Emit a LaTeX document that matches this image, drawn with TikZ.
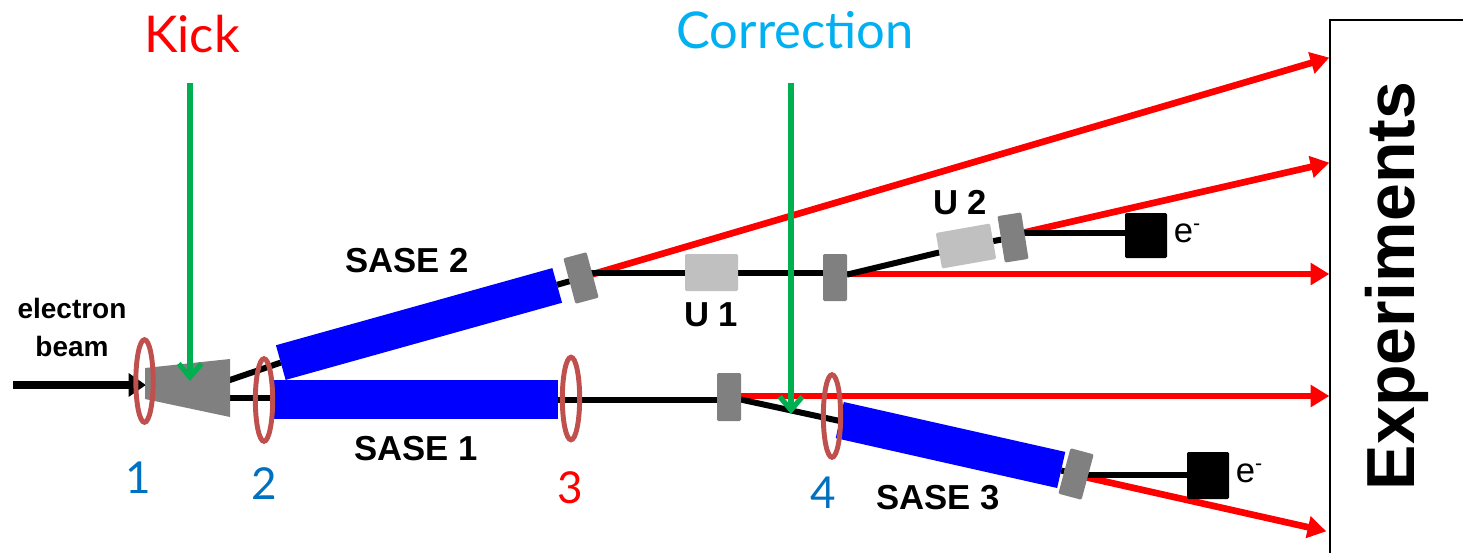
\documentclass[tikz,border=0pt]{standalone}
\usepackage{fontspec}
\setmainfont{Liberation Sans}
\newfontfamily\handfont{Lato}
\usetikzlibrary{arrows.meta,shapes.geometric}
\pgfdeclarelayer{paper}
\pgfdeclarelayer{rays}
\pgfdeclarelayer{beams}
\pgfdeclarelayer{over}
\pgfsetlayers{paper,rays,beams,main,over}
\definecolor{magGray}{HTML}{808080}
\definecolor{undGray}{HTML}{C0C0C0}
\definecolor{ringRed}{HTML}{C0504D}
\definecolor{kickGreen}{HTML}{00B050}
\definecolor{numBlue}{HTML}{0070C0}
\definecolor{corrBlue}{HTML}{00B0F0}
\tikzset{
  x=0.75pt,y=-0.75pt,
  pxbox/.style 2 args={minimum width=#1*0.75pt,minimum height=#2*0.75pt,inner sep=0pt,outer sep=0pt,draw=none},
  sase/.style={fill=blue},
  mag/.style={fill=magGray,rounded corners=1pt},
  und/.style={fill=undGray,rounded corners=1pt},
  dump/.style={fill=black,rounded corners=1pt},
  beamline/.style={line width=4.5pt,black},
  inbeam/.style={line width=6pt,black,-{Triangle[length=13pt,width=17pt]}},
  ray/.style={line width=5pt,red,-{Triangle[length=14pt,width=16pt]},shorten >=-1pt},
  greenarrow/.style={line width=3.9pt,kickGreen,-{Straight Barb[length=10pt,width=17pt,line width=3.9pt]}},
  ring/.style={draw=ringRed,line width=3.7pt,ellipse,fill=none,inner sep=0pt,minimum width=13pt,minimum height=62pt},
  lab/.style={font=\fontsize{26}{30}\selectfont\bfseries,inner sep=0pt,black},
  small/.style={font=\fontsize{21}{25}\selectfont\bfseries,inner sep=0pt,black},
  emin/.style={font=\fontsize{26}{30}\selectfont,inner sep=0pt,black},
  hand/.style={font=\handfont\fontsize{33}{38}\selectfont,inner sep=0pt},
  bighand/.style={font=\handfont\fontsize{38}{42}\selectfont,inner sep=0pt},
}
\begin{document}
\begin{tikzpicture}
\useasboundingbox (0,0) rectangle (1463,553);
\begin{pgfonlayer}{paper}
\fill[white] (0,0) rectangle (1463,553);
\end{pgfonlayer}
% Experiments panel
\coordinate (pb) at (1330,553);
\coordinate (pt) at (1330,20);
\coordinate (pr) at (1463,20);
\draw[line width=1.9pt,black] (pb) -- (pt) -- (pr);
\node[rotate=90,font=\fontsize{51}{56}\selectfont\bfseries,inner sep=0pt] (exp) at (1397,286) {Experiments};

% undulators and magnets
\node[sase,pxbox={287}{36},rotate=15.6] (s2) at (419,324) {};
\node[sase,pxbox={285}{39}] (s1) at (415.5,399.5) {};
\node[sase,pxbox={227}{37},rotate=-12.7] (s3) at (950.5,445) {};
\node[mag,pxbox={24}{47},rotate=15] (m2) at (581,278) {};
\node[mag,pxbox={24}{48}] (m1) at (729,397) {};
\node[mag,pxbox={24}{47}] (mu1) at (835,277.5) {};
\node[mag,pxbox={24}{47},rotate=9] (mu2) at (1013,237.5) {};
\node[mag,pxbox={24}{47},rotate=-15] (m3) at (1076,474) {};
\node[und,pxbox={53}{37}] (u1) at (711.5,272.5) {};
\node[und,pxbox={55}{36},rotate=10] (u2) at (966,246) {};
\node[dump,pxbox={42}{45}] (d2) at (1146,235.5) {};
\node[dump,pxbox={42}{47}] (d3) at (1208,475.5) {};

% kicker
\coordinate (k1) at (145,368);
\coordinate (k2) at (230,359);
\coordinate (k3) at (230,417);
\coordinate (k4) at (145,399);
\fill[magGray] (k1) -- (k2) -- (k3) -- (k4) -- cycle;
\coordinate (kin) at (146,385);
\coordinate (kup) at (227,381);
\coordinate (klo) at (230,398);
\coordinate (bstart) at (13,385);

\begin{pgfonlayer}{beams}
\draw[inbeam] (bstart) -- (kin);
\draw[beamline] (kup) -- (s2.west);
\draw[beamline] (klo) -- (klo -| s1);
\draw[beamline] (s2) -- (m2);
\draw[beamline] (s1) -- (s1 -| m1);
\draw[beamline] (m1) -- (s3);
\draw[beamline] (s3) -- (m3);
\coordinate (m3r) at (1080,475);
\draw[beamline] (m3r) -- (m3r -| d3);
\coordinate (m2r) at (581,273);
\draw[beamline] (m2r) -- (m2r -| u1);
\draw[beamline] (u1) -- (u1 -| mu1);
\draw[beamline] (mu1) -- (u2);
\draw[beamline] (u2) -- (mu2);
\coordinate (mu2r) at (1015,233);
\draw[beamline] (mu2r) -- (mu2r -| d2);
\end{pgfonlayer}

\begin{pgfonlayer}{rays}
\coordinate (t1) at (1328,58);
\coordinate (t2) at (1328,163);
\coordinate (t3) at (1328,274);
\coordinate (t4) at (1328,396);
\coordinate (t5) at (1325,531);
\coordinate (f1) at (590,275);
\coordinate (f2) at (1022,233);
\coordinate (f3) at (845,274);
\coordinate (f4) at (738,396);
\coordinate (f5) at (1085,477);
\draw[ray] (f1) -- (t1);
\draw[ray] (f2) -- (t2);
\draw[ray] (f3) -- (t3);
\draw[ray] (f4) -- (t4);
\draw[ray] (f5) -- (t5);
\end{pgfonlayer}

\begin{pgfonlayer}{over}
\node[ring] (r1) at (144.5,381) {};
\node[ring] (r2) at (264,400) {};
\node[ring] (r3) at (571,398.5) {};
\node[ring] (r4) at (832,416) {};
\coordinate (g1s) at (190,83);
\coordinate (g1e) at (190,381);
\coordinate (g2s) at (791,83);
\coordinate (g2e) at (791,414);
\draw[greenarrow] (g1s) -- (g1e);
\draw[greenarrow] (g2s) -- (g2e);
\end{pgfonlayer}

% labels
\node[bighand,text=red] (kick) at (192,34) {Kick};
\node[bighand,text=corrBlue] (corr) at (795,30) {Correction};
\node[hand,text=numBlue] (n1) at (138,478) {1};
\node[hand,text=numBlue] (n2) at (264,484) {2};
\node[hand,text=red] (n3) at (570,488) {3};
\node[hand,text=numBlue] (n4) at (823,493) {4};
\node[small] (el) at (72,308) {electron};
\node[small] (be) at (72,346) {beam};
\node[lab] (l2) at (407,261) {SASE 2};
\node[lab] (l1) at (416,449) {SASE 1};
\node[lab] (l3) at (938,498) {SASE 3};
\node[lab] (lu1) at (711,315) {U 1};
\node[lab] (lu2) at (960,203) {U 2};
\node[emin] (e2) at (1187,233) {e\raisebox{9pt}{\fontsize{16}{16}\selectfont -}};
\node[emin] (e3) at (1249,473) {e\raisebox{9pt}{\fontsize{16}{16}\selectfont -}};
\end{tikzpicture}
\end{document}
